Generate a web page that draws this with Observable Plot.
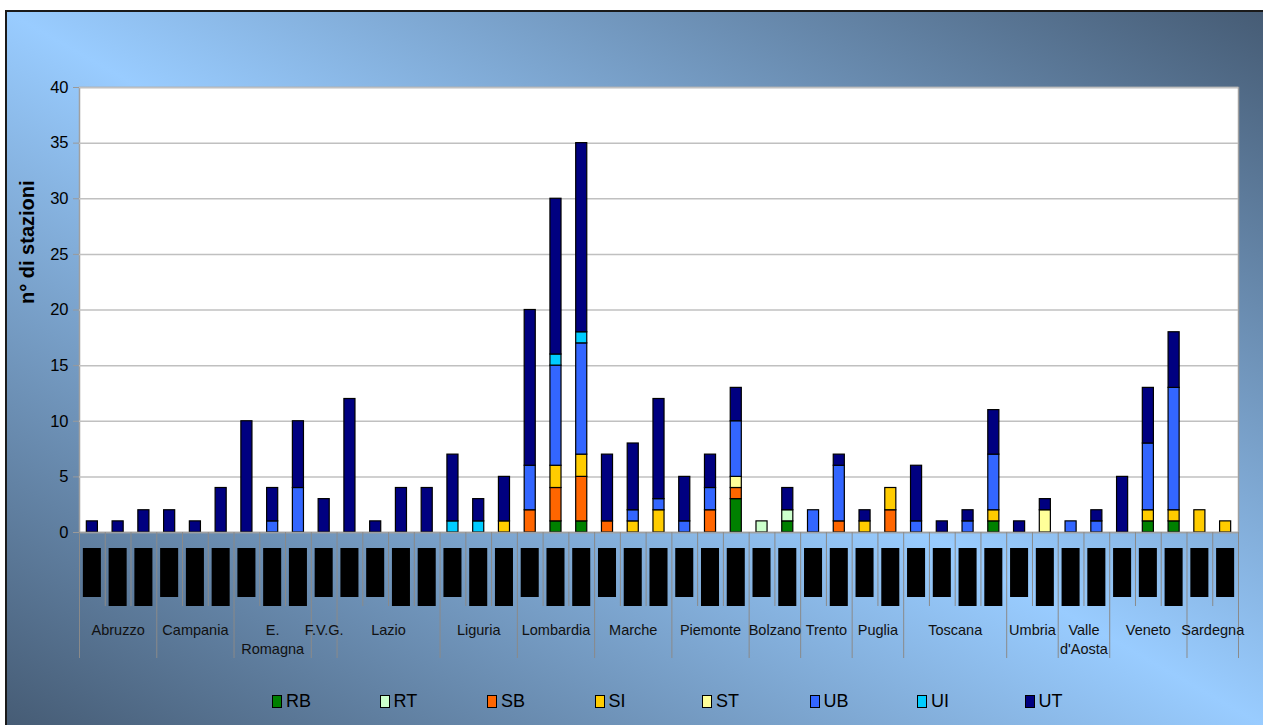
<!DOCTYPE html>
<html><head><meta charset="utf-8">
<script src="https://cdn.jsdelivr.net/npm/d3@7"></script>
<script src="https://cdn.jsdelivr.net/npm/@observablehq/plot@0.6"></script>
<style>
html,body{margin:0;padding:0;background:#fff;}
#wrap{position:relative;width:1263px;height:725px;overflow:hidden;background:#fff;font-family:"Liberation Sans",Arial,sans-serif;}
#panel{position:absolute;left:5px;top:10px;width:1256px;height:713px;border-left:2px solid #1a1a1a;border-top:2px solid #1a1a1a;
  background:linear-gradient(to bottom left,#465c75 0%,#99ccff 50%,#465c75 100%);}
#chart{position:absolute;left:0;top:0;}
#legend{position:absolute;left:265px;top:679px;display:flex;align-items:center;height:20px;}
.item{width:107.5px;display:flex;align-items:center;font-size:18px;color:#000;}
.sw{width:8px;height:11px;border:1px solid #000;margin-right:4px;}
</style>
</head><body>
<div id="wrap"><div id="panel"><div id="chart"></div><div id="legend"></div></div></div>
<script>
// ---- data ----
const regions = ["Abruzzo","Campania","E.\nRomagna","F.V.G.","Lazio","Liguria","Lombardia","Marche","Piemonte","Bolzano","Trento","Puglia","Toscana","Umbria","Valle\nd'Aosta","Veneto","Sardegna"];
const barsPerRegion = [3,3,3,1,4,3,3,3,3,2,2,2,4,2,2,3,2];
const seriesNames = ["RB","RT","SB","SI","ST","UB","UI","UT"];
const seriesColors = ["#008000","#ccffcc","#ff6600","#ffcc00","#ffff99","#3366ff","#00ccff","#000080"];
const RB = [0,0,0, 0,0,0, 0,0,0, 0, 0,0,0,0, 0,0,0, 0,1,1, 0,0,0, 0,0,3, 0,1, 0,0, 0,0, 0,0,0,1, 0,0, 0,0, 0,1,1, 0,0];
const RT = [0,0,0, 0,0,0, 0,0,0, 0, 0,0,0,0, 0,0,0, 0,0,0, 0,0,0, 0,0,0, 1,1, 0,0, 0,0, 0,0,0,0, 0,0, 0,0, 0,0,0, 0,0];
const SB = [0,0,0, 0,0,0, 0,0,0, 0, 0,0,0,0, 0,0,0, 2,3,4, 1,0,0, 0,2,1, 0,0, 0,1, 0,2, 0,0,0,0, 0,0, 0,0, 0,0,0, 0,0];
const SI = [0,0,0, 0,0,0, 0,0,0, 0, 0,0,0,0, 0,0,1, 0,2,2, 0,1,2, 0,0,0, 0,0, 0,0, 1,2, 0,0,0,1, 0,0, 0,0, 0,1,1, 2,1];
const ST = [0,0,0, 0,0,0, 0,0,0, 0, 0,0,0,0, 0,0,0, 0,0,0, 0,0,0, 0,0,1, 0,0, 0,0, 0,0, 0,0,0,0, 0,2, 0,0, 0,0,0, 0,0];
const UB = [0,0,0, 0,0,0, 0,1,4, 0, 0,0,0,0, 0,0,0, 4,9,10, 0,1,1, 1,2,5, 0,0, 2,5, 0,0, 1,0,1,5, 0,0, 1,1, 0,6,11, 0,0];
const UI = [0,0,0, 0,0,0, 0,0,0, 0, 0,0,0,0, 1,1,0, 0,1,1, 0,0,0, 0,0,0, 0,0, 0,0, 0,0, 0,0,0,0, 0,0, 0,0, 0,0,0, 0,0];
const UT = [1,1,2, 2,1,4, 10,3,6, 3, 12,1,4,4, 6,2,4, 14,14,17, 6,6,9, 4,3,3, 0,2, 0,1, 1,0, 5,1,1,4, 1,1, 0,1, 5,5,5, 0,0];
// sub-category tick labels (rendered as black blocks in the reference): s = short, l = long
const subLabelKind = ["s","l","l", "s","l","l", "s","l","l", "s", "s","s","l","l", "s","l","l", "s","l","l", "s","l","l", "s","l","l", "s","l", "s","l", "s","l", "s","s","l","l", "s","l", "l","l", "s","s","l", "s","s"];
const yTicks = [0,5,10,15,20,25,30,35,40];
const yTitle = "n° di stazioni";

// ---- derived tables ----
const seriesValues = [RB,RT,SB,SI,ST,UB,UI,UT];
const nBars = UT.length;
const bars = [];
for (let i = 0; i < nBars; i++) {
  let y = 0;
  seriesNames.forEach((s, k) => {
    const v = seriesValues[k][i];
    if (v > 0) { bars.push({i, s, y1: y, y2: y + v}); y += v; }
  });
}
const groups = [];
let start = 0;
regions.forEach((name, g) => { const n = barsPerRegion[g]; groups.push({name, start, n, cx: start + (n - 1) / 2}); start += n; });
const groupBounds = groups.map(g => g.start - 0.5).concat([nBars - 0.5]);
const groupStarts = new Set(groups.map(g => g.start));
const innerBounds = d3.range(1, nBars).filter(i => !groupStarts.has(i)).map(i => i - 0.5);
const boxes = subLabelKind.map((kind, i) => ({i, kind}));

const W = 1256, H = 660, mT = 75, mB = 140, mL = 72, mR = 25;
const unitsPerPx = 40 / (H - mT - mB);
const below = p => -p * unitsPerPx;

const chart = Plot.plot({
  width: W, height: H,
  marginTop: mT, marginBottom: mB, marginLeft: mL, marginRight: mR,
  style: {background: "transparent", fontFamily: "'Liberation Sans', Arial, sans-serif", fontSize: "14px", overflow: "visible"},
  x: {domain: [-0.5, nBars - 0.5], axis: null},
  y: {domain: [0, 40], axis: null},
  color: {domain: seriesNames, range: seriesColors},
  marks: [
    Plot.frame({fill: "white", stroke: "#a0a0a0", strokeWidth: 1.5}),
    Plot.ruleY(yTicks.filter(d => d > 0), {stroke: "#c0c0c0", strokeWidth: 1.5}),
    Plot.rect(bars, {x1: d => d.i - 0.215, x2: d => d.i + 0.215, y1: "y1", y2: "y2", fill: "s", stroke: "#000", strokeWidth: 1.2}),
    Plot.ruleY([0], {stroke: "#a0a0a0", strokeWidth: 1.5}),
    Plot.ruleX(innerBounds, {x: d => d, y1: 0, y2: below(74), stroke: "#8a8a8a", strokeWidth: 1}),
    Plot.ruleX(groupBounds, {x: d => d, y1: 0, y2: below(126), stroke: "#8a8a8a", strokeWidth: 1}),
    Plot.rect(boxes, {x1: d => d.i - 0.35, x2: d => d.i + 0.35, y1: below(16), y2: d => d.kind === "s" ? below(65) : below(74), fill: "#000"}),
    Plot.text(groups, {x: "cx", y: () => 0, text: "name", dy: 89, lineAnchor: "top", fontSize: 14.5, lineHeight: 1.3, fill: "#111"}),
    Plot.axisY({ticks: yTicks, tickSize: 6, tickPadding: 5, fontSize: 16.5, stroke: "#9a9a9a", fill: "#000", label: null}),
    Plot.text([yTitle], {frameAnchor: "left", rotate: -90, dx: -52, dy: -6, fontSize: 20, fontWeight: "bold", fill: "#000"})
  ]
});
document.getElementById("chart").appendChild(chart);

// ---- legend ----
const legend = d3.select("#legend");
seriesNames.forEach((s, k) => {
  const it = legend.append("div").attr("class", "item");
  it.append("div").attr("class", "sw").style("background", seriesColors[k]);
  it.append("span").text(s);
});
</script>
</body></html>
